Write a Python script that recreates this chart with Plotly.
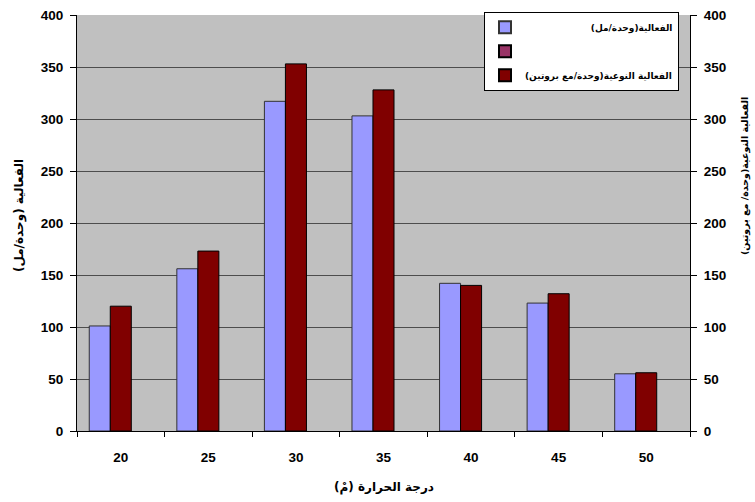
import plotly.graph_objects as go

temps = ["20", "25", "30", "35", "40", "45", "50"]
activity = [101, 156, 317, 303, 142, 123, 55]
specific_activity = [120, 173, 353, 328, 140, 132, 56]
empty_series = [None] * 7
y_ticks = [0, 50, 100, 150, 200, 250, 300, 350, 400]

name_activity = "الفعالية(وحدة/مل)"
name_specific = "الفعالية النوعية(وحدة/مع بروتين)"
title_left = "الفعالية (وحدة/مل)"
title_right = "الفعالية النوعية(وحدة/ مع بروتين)"
title_x = "درجة الحرارة (مْ)"

FONT = "Liberation Sans, Arial, DejaVu Sans, sans-serif"
AR_FONT = "DejaVu Sans, Liberation Sans, sans-serif"


def b(s):
    return "<b>" + str(s) + "</b>"


fig = go.Figure()
fig.add_trace(go.Bar(x=temps, y=activity, name=b("\u00a0" * 21 + name_activity), legendgroup="a",
                     marker=dict(color="#9999FF", line=dict(color="#333333", width=1)),
                     width=0.24, offset=-0.36, yaxis="y"))
fig.add_trace(go.Bar(x=temps, y=empty_series, name=" ", legendgroup="b",
                     marker=dict(color="#993366", line=dict(color="#000000", width=1)),
                     width=0.24, offset=-0.12, yaxis="y"))
fig.add_trace(go.Bar(x=temps, y=specific_activity, name=b(name_specific), legendgroup="c",
                     marker=dict(color="#800000", line=dict(color="#000000", width=1)),
                     width=0.24, offset=-0.12, yaxis="y2"))

yax_common = dict(range=[0, 400], tickmode="array", tickvals=y_ticks,
                  ticktext=[b(v) for v in y_ticks],
                  ticks="outside", ticklen=6, tickcolor="black",
                  showline=True, linecolor="black", linewidth=1,
                  zeroline=False, automargin=False,
                  tickfont=dict(size=13.5))

fig.update_layout(
    width=755, height=502,
    margin=dict(l=77, r=65, t=15, b=71),
    paper_bgcolor="white",
    plot_bgcolor="#C0C0C0",
    barmode="overlay",
    font=dict(family=FONT, color="black", size=12),
    xaxis=dict(type="category", categoryorder="array", categoryarray=temps,
               tickmode="array", tickvals=temps, ticktext=[b(t) for t in temps],
               tickson="boundaries", ticks="outside", ticklen=5, tickcolor="black",
               showline=True, linecolor="black", linewidth=1, automargin=False,
               tickfont=dict(size=13.5), ticklabelstandoff=14),
    yaxis=dict(**yax_common, showgrid=True, gridcolor="#4d4d4d", gridwidth=1,
               ticklabelstandoff=4),
    yaxis2=dict(**yax_common, overlaying="y", side="right", showgrid=False,
                ticklabelstandoff=4),
    legend=dict(x=(679 - 77) / 613, y=1.008, xanchor="right", yanchor="top",
                bgcolor="white", bordercolor="black", borderwidth=1,
                font=dict(size=9, family=AR_FONT), tracegroupgap=5,
                itemsizing="constant"),
    showlegend=True,
)

# axis titles placed as annotations (paper coordinates relative to the plot area)
fig.add_annotation(text=b(title_x), xref="paper", yref="paper",
                   x=0.5, y=-(487 - 431) / 416, showarrow=False,
                   xanchor="center", yanchor="middle",
                   font=dict(size=12, family=AR_FONT, color="black"))
fig.add_annotation(text=b(title_left), xref="paper", yref="paper",
                   x=-(77 - 20) / 613, y=(431 - 216) / 416, showarrow=False, textangle=-90,
                   xanchor="center", yanchor="middle",
                   font=dict(size=12, family=AR_FONT, color="black"))
fig.add_annotation(text=b(title_right), xref="paper", yref="paper",
                   x=1 + (745 - 690) / 613, y=(431 - 176) / 416, showarrow=False,
                   textangle=-90, xanchor="center", yanchor="middle",
                   font=dict(size=9.5, family=AR_FONT, color="black"))

fig.write_html("out.html", config={"displayModeBar": False},
               post_script="document.body.style.margin='0';")
